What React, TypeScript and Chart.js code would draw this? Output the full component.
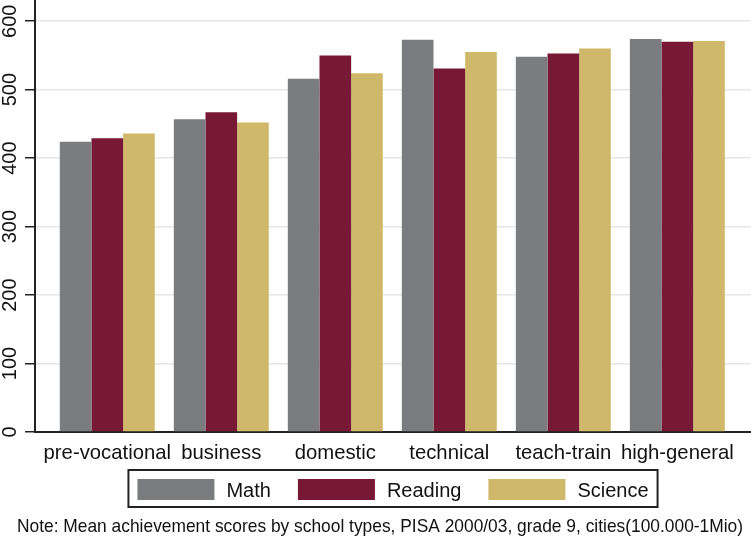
import React, { useEffect, useRef } from 'react';
import { Chart, registerables } from 'chart.js';

Chart.register(...registerables);

const categories = ['pre-vocational', 'business', 'domestic', 'technical', 'teach-train', 'high-general'];
const seriesNames = ['Math', 'Reading', 'Science'];
const mathScores = [424, 457, 516, 573, 548, 574];
const readingScores = [429, 467, 550, 531, 553, 570];
const scienceScores = [436, 452, 524, 555, 560, 571];
const yTickValues = [0, 100, 200, 300, 400, 500, 600];
const noteText = 'Note: Mean achievement scores by school types, PISA 2000/03, grade 9, cities(100.000-1Mio)';

const FONT = "'Liberation Sans', Arial, Helvetica, sans-serif";
const TEXT = '#111111';
const AXIS = '#222222';
const COLORS = ['#7b7c80', '#781837', '#d0b86a'];

const decorPlugin = {
  id: 'decor',
  afterDraw(chart: any) {
    const ctx = chart.ctx as CanvasRenderingContext2D;
    const ys = chart.scales.y;
    ctx.save();
    ctx.fillStyle = TEXT;
    ctx.font = `20px ${FONT}`;
    ctx.textAlign = 'center';
    ctx.textBaseline = 'alphabetic';
    ys.ticks.forEach((t: any) => {
      const y = ys.getPixelForValue(t.value);
      ctx.save();
      ctx.translate(16, y);
      ctx.rotate(-Math.PI / 2);
      ctx.fillText(String(t.value), 0, 0);
      ctx.restore();
    });

    // legend
    const ds = chart.data.datasets;
    const sw = 77, sh = 21, gapT = 12, gapI = 27, padX = 9;
    ctx.font = `20px ${FONT}`;
    const widths = ds.map((d: any) => ctx.measureText(d.label).width);
    const total = ds.length * (sw + gapT) + widths.reduce((a: number, b: number) => a + b, 0) + (ds.length - 1) * gapI;
    const cx = (chart.chartArea.left + chart.chartArea.right) / 2;
    let x = cx - total / 2;
    const top = 470, h = 37;
    ctx.lineWidth = 2;
    ctx.strokeStyle = AXIS;
    ctx.strokeRect(x - padX, top, total + 2 * padX, h);
    ds.forEach((d: any, i: number) => {
      ctx.fillStyle = d.backgroundColor;
      ctx.fillRect(x, 479, sw, sh);
      x += sw + gapT;
      ctx.fillStyle = TEXT;
      ctx.textAlign = 'left';
      ctx.fillText(d.label, x, 497);
      x += widths[i] + gapI;
    });

    // note (compressed horizontally to the reference's width)
    ctx.font = `18.5px ${FONT}`;
    ctx.textAlign = 'left';
    ctx.fillStyle = TEXT;
    const targetW = 726;
    const w = ctx.measureText(noteText).width;
    const sx = Math.min(1, targetW / w);
    ctx.save();
    ctx.translate(17, 532);
    ctx.scale(sx, 1);
    ctx.fillText(noteText, 0, 0);
    ctx.restore();
    ctx.restore();
  },
};

export default function App() {
  const ref = useRef<HTMLCanvasElement | null>(null);
  useEffect(() => {
    if (!ref.current) return;
    const series = [mathScores, readingScores, scienceScores];
    const chart = new Chart(ref.current, {
      type: 'bar',
      data: {
        datasets: series.map((vals, s) => ({
          label: seriesNames[s],
          data: categories.map((_, i) => ({ x: i, y: vals[i] })),
          backgroundColor: COLORS[s],
          borderWidth: 0,
          categoryPercentage: 0.833,
          barPercentage: 1,
        })),
      },
      options: {
        animation: false,
        responsive: false,
        events: [],
        layout: { padding: 0 },
        plugins: {
          legend: { display: false },
          tooltip: { enabled: false },
          title: { display: false },
        },
        scales: {
          x: {
            type: 'linear',
            min: -0.634,
            max: 5.646,
            offset: false,
            grid: { display: false, drawTicks: false, tickLength: 0, offset: false },
            border: { display: true, color: AXIS, width: 2 },
            afterBuildTicks: (scale: any) => {
              scale.ticks = categories.map((_, i) => ({ value: i }));
            },
            afterFit: (scale: any) => {
              scale.height = 105;
            },
            ticks: {
              autoSkip: false,
              maxRotation: 0,
              minRotation: 0,
              padding: 9,
              color: TEXT,
              font: { family: FONT, size: 20.3 },
              callback: (v: any) => categories[v as number] ?? '',
            },
          },
          y: {
            type: 'linear',
            min: 0,
            max: 631,
            afterBuildTicks: (scale: any) => {
              scale.ticks = yTickValues.map((v) => ({ value: v }));
            },
            afterFit: (scale: any) => {
              scale.width = 35;
            },
            grid: {
              color: '#e6e6e6',
              lineWidth: 1.5,
              drawTicks: true,
              tickLength: 10,
              tickColor: AXIS,
              tickWidth: 1.5,
            },
            border: { display: true, color: AXIS, width: 2 },
            ticks: { display: false },
          },
        },
      },
      plugins: [decorPlugin],
    } as any);
    return () => chart.destroy();
  }, []);
  return (
    <div style={{ position: 'absolute', left: 0, top: 0, width: 751, height: 537, background: '#fff' }}>
      <canvas ref={ref} width={751} height={537} />
    </div>
  );
}
